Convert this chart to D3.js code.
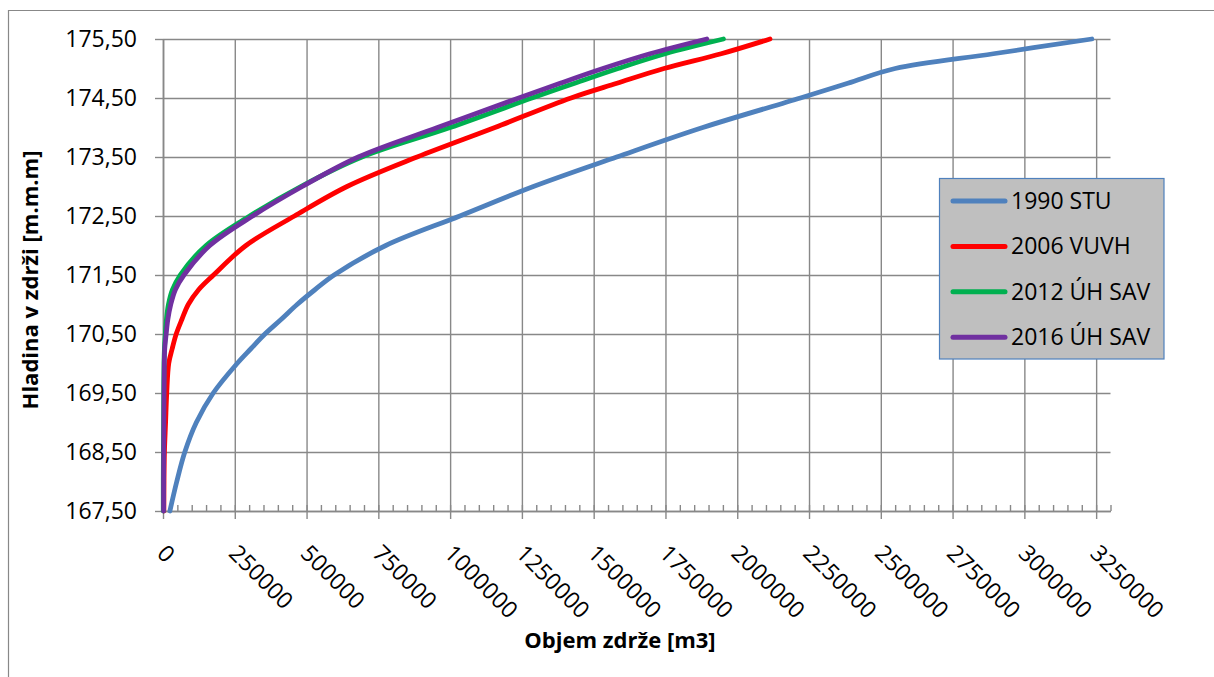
<!DOCTYPE html>
<html>
<head>
<meta charset="utf-8">
<script src="https://cdn.jsdelivr.net/npm/d3@7"></script>
<style>
  body { margin: 0; background: #fff; }
  text { font-family: "Open Sans", sans-serif; fill: #000; }
</style>
</head>
<body>
<div id="chart"></div>
<script>
// hladiny [m n.m.] a objemy zdrze [m3] odcitane z grafu
const levels = [167.5, 168, 168.5, 169, 169.5, 170, 170.25, 170.5, 170.75, 171, 171.25, 171.5, 172, 172.5, 173, 173.5, 174, 174.5, 174.75, 175, 175.25, 175.5];
const stu1990  = [24000, 48000, 76000, 116000, 175000, 258000, 306000, 355000, 412000, 467000, 529000, 596000, 776000, 1034000, 1290000, 1580000, 1880000, 2220000, 2385000, 2550000, 2892000, 3235000];
const vuvh2006 = [3000, 3500, 5000, 9000, 13000, 20000, 32000, 46000, 66000, 88000, 124000, 176000, 289000, 458000, 641000, 885000, 1156000, 1421000, 1581000, 1745000, 1944000, 2114000];
const uhsav2012 = [1000, 1000, 1500, 2000, 2500, 3500, 5000, 8000, 12000, 19000, 33000, 60000, 150000, 302000, 480000, 693000, 1000000, 1285000, 1434000, 1585000, 1749000, 1952000];
const uhsav2016 = [2000, 2000, 2500, 3000, 3500, 4500, 6000, 11000, 17000, 27000, 43000, 73000, 163000, 312000, 485000, 680000, 956000, 1239000, 1383000, 1532000, 1696000, 1894000];

const seriesNames = ["1990 STU", "2006 VUVH", "2012 ÚH SAV", "2016 ÚH SAV"];
const seriesValues = [stu1990, vuvh2006, uhsav2012, uhsav2016];
const seriesColors = ["#4f81bd", "#ff0000", "#00b050", "#7030a0"];

const xTicks = d3.range(0, 3250001, 250000);
const xMinor = d3.range(0, 3300001, 50000);
const yTicks = [167.5, 168.5, 169.5, 170.5, 171.5, 172.5, 173.5, 174.5, 175.5];

const width = 1214, height = 677;
const plotLeft = 163, plotRight = 1110.5, plotTop = 39, plotBottom = 511;
const gridColor = "#888888";

const svg = d3.select("#chart").append("svg")
    .attr("width", width)
    .attr("height", height);

// ramcek grafu
svg.append("path")
    .attr("d", `M8.5,${height} V10.5 H${width}`)
    .attr("fill", "none")
    .attr("stroke", gridColor)
    .attr("stroke-width", 1.2);

const x = d3.scaleLinear().domain([0, 3300000]).range([plotLeft, plotRight]);
const y = d3.scaleLinear().domain([167.5, 175.5]).range([plotBottom, plotTop]);

// mriezka
svg.append("g")
    .attr("transform", `translate(0,${plotBottom})`)
    .call(d3.axisBottom(x).tickValues(xTicks).tickSize(-(plotBottom - plotTop)).tickFormat(""))
    .call(g => g.select(".domain").remove())
    .call(g => g.selectAll("line").attr("stroke", gridColor).attr("stroke-width", 1.4));

svg.append("g")
    .attr("transform", `translate(${plotLeft},0)`)
    .call(d3.axisLeft(y).tickValues(yTicks).tickSize(-(plotRight - plotLeft)).tickFormat(""))
    .call(g => g.select(".domain").remove())
    .call(g => g.selectAll("line").attr("stroke", gridColor).attr("stroke-width", 1.4));

// vedlajsie dieliky na osi x
svg.append("g")
    .attr("transform", `translate(0,${plotBottom})`)
    .call(d3.axisBottom(x).tickValues(xMinor).tickSize(-6).tickSizeOuter(0).tickFormat(""))
    .call(g => g.select(".domain").remove())
    .call(g => g.selectAll("line").attr("stroke", gridColor).attr("stroke-width", 1.4));

// os x
const xAxis = svg.append("g")
    .attr("transform", `translate(0,${plotBottom})`)
    .call(d3.axisBottom(x).tickValues(xTicks).tickSize(8).tickSizeOuter(0).tickFormat(d3.format("d")));
xAxis.select(".domain").attr("stroke", gridColor).attr("stroke-width", 1.6);
xAxis.selectAll("line").attr("stroke", gridColor).attr("stroke-width", 1.4);
xAxis.selectAll("text")
    .attr("font-size", 23)
    .attr("font-family", "Open Sans, sans-serif")
    .attr("text-anchor", "start")
    .attr("y", 0)
    .attr("dy", "0.35em")
    .attr("transform", "translate(-2,38) rotate(45)");

// os y
const yAxis = svg.append("g")
    .attr("transform", `translate(${plotLeft},0)`)
    .call(d3.axisLeft(y).tickValues(yTicks).tickSize(8).tickSizeOuter(0)
      .tickFormat(d => d.toFixed(2).replace(".", ",")));
yAxis.select(".domain").attr("stroke", gridColor).attr("stroke-width", 1.6);
yAxis.selectAll("line").attr("stroke", gridColor).attr("stroke-width", 1.4);
yAxis.selectAll("text")
    .attr("font-size", 23)
    .attr("font-family", "Open Sans, sans-serif")
    .attr("x", -26);

// krivky
const line = d3.line()
    .x(d => x(d.v))
    .y(d => y(d.h))
    .curve(d3.curveCatmullRom.alpha(0.5));

seriesValues.forEach(function(vals, i){
  let pts = levels.map((h, j) => ({h: h, v: vals[j]}));
  svg.append("path")
      .datum(pts)
      .attr("d", line)
      .attr("fill", "none")
      .attr("stroke", seriesColors[i])
      .attr("stroke-width", 4.8)
      .attr("stroke-linejoin", "round")
      .attr("stroke-linecap", "round");
});

// nazvy osi
svg.append("text")
    .attr("x", 620)
    .attr("y", 648)
    .attr("text-anchor", "middle")
    .attr("font-size", 22)
    .attr("font-weight", "bold")
    .text("Objem zdrže [m3]");

svg.append("text")
    .attr("transform", "translate(38,280) rotate(-90)")
    .attr("text-anchor", "middle")
    .attr("font-size", 22)
    .attr("font-weight", "bold")
    .text("Hladina v zdrži [m.m.m]");

// legenda
const legend = svg.append("g");
legend.append("rect")
    .attr("x", 939.5)
    .attr("y", 178.5)
    .attr("width", 224.5)
    .attr("height", 180.5)
    .attr("fill", "#bfbfbf")
    .attr("stroke", "#4f81bd")
    .attr("stroke-width", 1.2);

seriesNames.forEach(function(name, i){
  let ly = 201 + i * 45.4;
  legend.append("line")
      .attr("x1", 953).attr("x2", 1005)
      .attr("y1", ly).attr("y2", ly)
      .attr("stroke", seriesColors[i])
      .attr("stroke-width", 5)
      .attr("stroke-linecap", "round");
  legend.append("text")
      .attr("x", 1011)
      .attr("y", ly)
      .attr("dy", "0.35em")
      .attr("font-size", 23)
      .text(name);
});
</script>
</body>
</html>
